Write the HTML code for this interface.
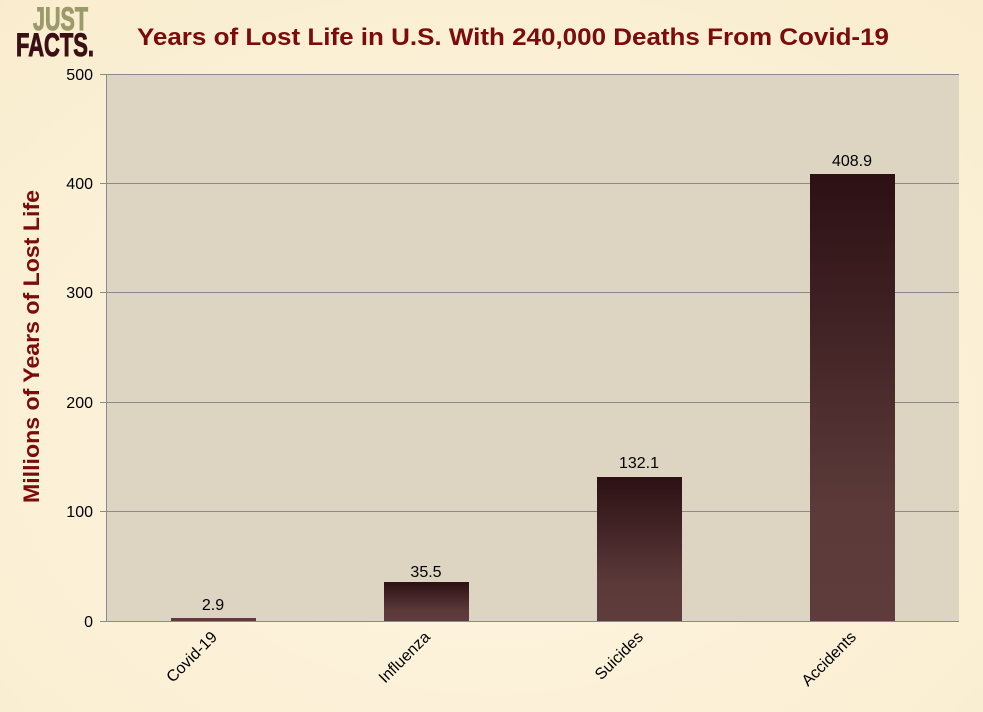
<html><head><style>body{margin:0;background:#fdf3dc;}</style></head><body>
<svg width="983" height="712" xmlns="http://www.w3.org/2000/svg" style="display:block;font-family:'Liberation Sans',Arial,sans-serif">
<defs>
<radialGradient id="bg" cx="50%" cy="60%" r="80%"><stop offset="0" stop-color="#fff6e2"/><stop offset="1" stop-color="#f9ecce"/></radialGradient>
<linearGradient id="bar" x1="0" y1="0" x2="0" y2="1"><stop offset="0" stop-color="#2c1013"/><stop offset="0.75" stop-color="#5c3a3a"/><stop offset="1" stop-color="#5e3c3c"/></linearGradient>
</defs>
<rect width="983" height="712" fill="url(#bg)"/>
<text x="33" y="30" font-size="32" font-weight="bold" fill="#9a9a6a" textLength="55" lengthAdjust="spacingAndGlyphs" stroke="#9a9a6a" stroke-width="1">JUST</text>
<text x="16" y="56" font-size="32" font-weight="bold" fill="#3a1014" textLength="78" lengthAdjust="spacingAndGlyphs" stroke="#3a1014" stroke-width="1">FACTS.</text>
<text x="137" y="45" font-size="24" font-weight="bold" fill="#7a0c0c" textLength="752" lengthAdjust="spacingAndGlyphs">Years of Lost Life in U.S. With 240,000  Deaths From Covid-19</text>
<rect x="106" y="74" width="853" height="547" fill="#ddd5c1"/>
<g stroke="#8a8a8a" stroke-width="1">
<line x1="100" y1="74.5" x2="959" y2="74.5"/><line x1="100" y1="183.5" x2="959" y2="183.5"/><line x1="100" y1="292.5" x2="959" y2="292.5"/><line x1="100" y1="402.5" x2="959" y2="402.5"/><line x1="100" y1="511.5" x2="959" y2="511.5"/>
<line x1="106.5" y1="74" x2="106.5" y2="621"/>
</g>
<g font-size="16" fill="#000" text-anchor="end">
<text x="93" y="80">500</text><text x="93" y="189">400</text><text x="93" y="298">300</text><text x="93" y="408">200</text><text x="93" y="517">100</text><text x="93" y="627">0</text>
</g>
<rect x="171" y="618" width="85" height="3" fill="#5e3c3c"/>
<rect x="384" y="582" width="85" height="39" fill="url(#bar)"/>
<rect x="597" y="477" width="85" height="144" fill="url(#bar)"/>
<rect x="810" y="174" width="85" height="447" fill="url(#bar)"/>
<line x1="100" y1="621.5" x2="959" y2="621.5" stroke="#8a8a8a"/>
<g font-size="16" text-anchor="middle">
<text x="213" y="610">2.9</text><text x="426" y="577">35.5</text><text x="639" y="468">132.1</text><text x="852" y="166">408.9</text>
</g>
<g font-size="16" text-anchor="end">
<text transform="translate(218,638) rotate(-45)">Covid-19</text>
<text transform="translate(431,638) rotate(-45)">Influenza</text>
<text transform="translate(644,638) rotate(-45)">Suicides</text>
<text transform="translate(857,638) rotate(-45)">Accidents</text>
</g>
<text transform="translate(39,503) rotate(-90)" font-size="22" font-weight="bold" fill="#7a0c0c" textLength="313" lengthAdjust="spacingAndGlyphs">Millions of Years of Lost Life</text>
</svg>
</body></html>
